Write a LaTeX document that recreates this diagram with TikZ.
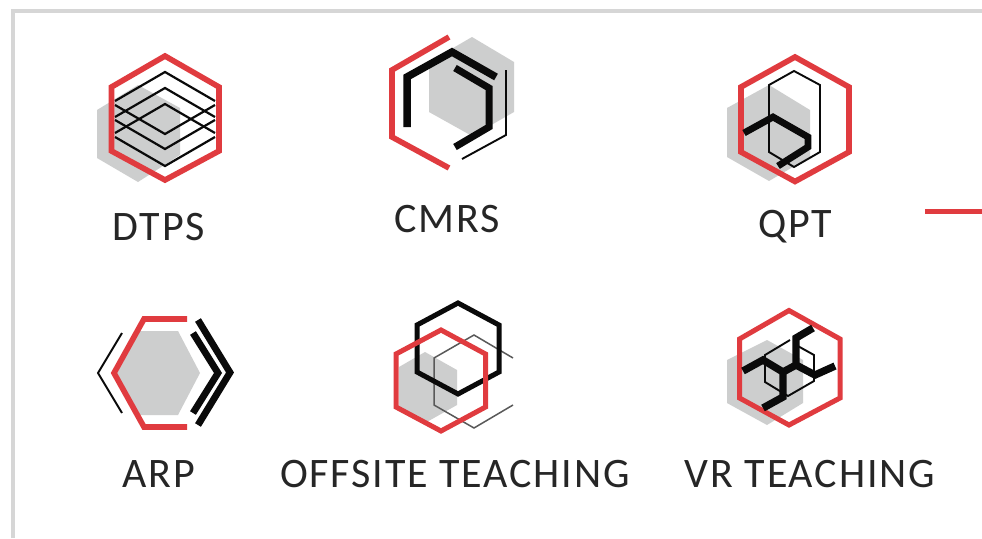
\documentclass[tikz,border=0pt]{standalone}
\usepackage{fontspec}
\setmainfont[LetterSpace=4.5]{Carlito}
\definecolor{hexred}{HTML}{E03B3F}
\definecolor{hexgray}{HTML}{CDCECE}
\definecolor{framegray}{HTML}{D6D6D6}
\definecolor{inkblack}{HTML}{0A0A0A}
\tikzset{
  shade hex/.style={fill=hexgray,draw=none},
  red line/.style={draw=hexred,line width=5.6pt,miter limit=10},
  thick line/.style={draw=inkblack,line width=6.8pt,miter limit=10},
  mid line/.style={draw=inkblack,line width=5pt},
  thin line/.style={draw=inkblack,line width=1.9pt},
  grey line/.style={draw=black!65,line width=1.5pt},
  caption/.style={font=\fontsize{42}{42}\selectfont,text=black!85,inner sep=0pt,anchor=center}
}
\begin{document}
\begin{tikzpicture}[x=1pt,y=-1pt]
\useasboundingbox (0,0) rectangle (982,538);
\fill[white] (0,0) rectangle (982,538);
% frame
\draw[framegray,line width=4pt] (12.5,538) -- (12.5,10.5) -- (982,10.5);
\draw[hexred,line width=4.4pt] (925,211.5) -- (982,211.5);

% DTPS
\path[shade hex] (138,85) -- (180,108) -- (180,155) -- (138,182) -- (97,158) -- (97,110) -- cycle;
\draw[thin line,line width=2.2pt] (115,101) -- (165,72) -- (215,101);
\draw[thin line,line width=2.2pt] (115,117) -- (165,88) -- (215,117);
\draw[thin line,line width=2.2pt] (115,133) -- (165,104) -- (215,133);
\draw[thin line,line width=2.2pt] (115,105) -- (165,134) -- (215,105);
\draw[thin line,line width=2.2pt] (115,120) -- (165,149) -- (215,120);
\draw[thin line,line width=2.2pt] (115,137) -- (165,166) -- (215,137);
\draw[red line] (165,56) -- (219,87) -- (219,151) -- (165,180) -- (111.5,151) -- (111.5,87) -- cycle;
\node[caption] (dtps) at (159,227) {DTPS};

% CMRS
\path[shade hex] (472,37) -- (514,62) -- (514,112) -- (472,136) -- (429,112) -- (429,62) -- cycle;
\draw[red line] (449,37) -- (392,70) -- (392,137) -- (449,168);
\draw[thick line,line width=7.5pt] (407,127) -- (407,77) -- (452,52) -- (496,77);
\draw[thick line,line width=7pt] (455,68) -- (489,88) -- (489,127) -- (455,147);
\draw[thin line] (506,70) -- (506,135) -- (462,159);
\node[caption] (cmrs) at (447,219) {CMRS};

% QPT
\path[shade hex] (769,85) -- (810,110) -- (810,157) -- (769,181) -- (727,157) -- (727,108) -- cycle;
\draw[red line] (795,57) -- (849,87) -- (849,152) -- (795,181.5) -- (741,152) -- (741,87) -- cycle;
\draw[thin line] (794,71) -- (820,85) -- (820,152) -- (794,167) -- (769,152) -- (769,85) -- cycle;
\draw[thick line] (744,133) -- (773,117) -- (808,137) -- (808,147) -- (778,166);
\node[caption] (qpt) at (795,227) {QPT};

% ARP
\path[shade hex] (178,331) -- (200,373) -- (178,415) -- (137,415) -- (115,373) -- (137,331) -- cycle;
\draw[red line] (187,319) -- (144,319) -- (114,373) -- (144,427) -- (187,427);
\draw[thin line] (122,333) -- (98,373) -- (122,413);
\draw[thick line] (193,333) -- (218,373) -- (193,413);
\draw[thick line] (198,320) -- (230,372.5) -- (198,425);
\node[caption] (arp) at (159,474) {ARP};

% OFFSITE TEACHING
\path[shade hex] (425,352) -- (457,370) -- (457,405) -- (425,423) -- (399,407) -- (399,367) -- cycle;
\draw[grey line] (513,358) -- (474,335) -- (434,358) -- (434,405) -- (474,428) -- (513,405);
\draw[mid line] (458,303) -- (499,325) -- (499,372) -- (458,394) -- (417,372) -- (417,325) -- cycle;
\draw[red line,line width=5pt] (441,330) -- (485.5,354) -- (485.5,407) -- (441,431) -- (396,407) -- (396,354) -- cycle;
\node[caption] (offsite) at (455,474) {OFFSITE TEACHING};

% VR TEACHING
\path[shade hex] (767,340) -- (803,360) -- (803,403) -- (767,425) -- (727,403) -- (727,360) -- cycle;
\draw[red line,line width=5pt] (789,310.5) -- (840,339) -- (840,398) -- (789,425) -- (739.5,398) -- (739.5,339) -- cycle;
\draw[thin line] (790,340) -- (765,355) -- (765,382) -- (788,396) -- (814,381) -- (814,355) -- (796,345);
\draw[thick line,line width=7.4pt] (743,371) -- (763,360) -- (783,372) -- (783,397) -- (763,408);
\draw[thick line,line width=7.4pt] (783,372) -- (796,365) -- (796,338) -- (813,328);
\draw[thick line,line width=7.4pt] (796,365) -- (815,375) -- (835,366);
\node[caption] (vr) at (810,474) {VR TEACHING};
\end{tikzpicture}
\end{document}
